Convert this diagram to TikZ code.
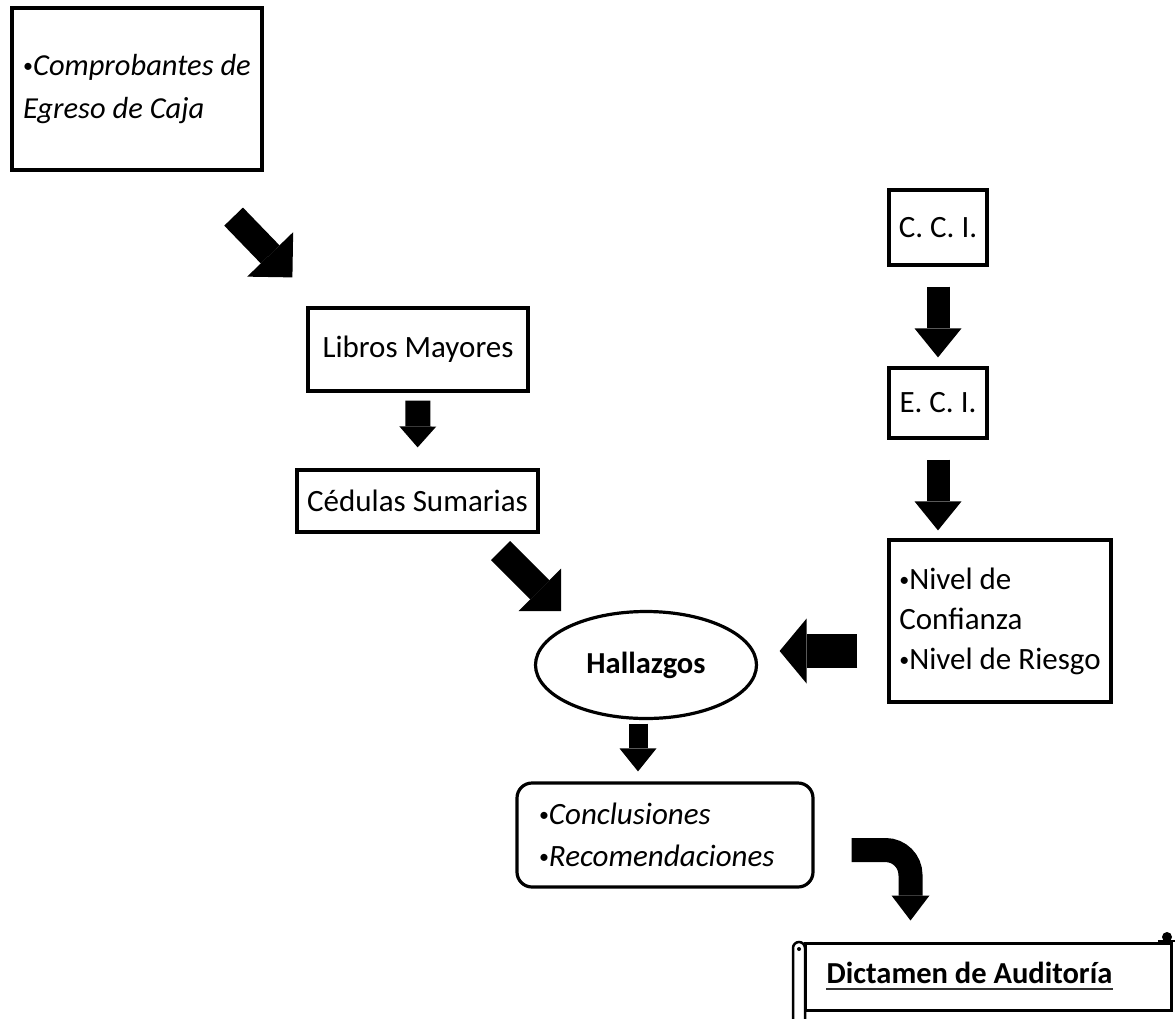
\documentclass[tikz,border=0pt]{standalone}
\usepackage{fontspec}
\setmainfont{Carlito}
\usetikzlibrary{arrows.meta,shapes.geometric}
% small list bullet
\newcommand{\smbul}{\raisebox{3pt}{\fontsize{20}{20}\selectfont\upshape •}}
\begin{document}
\begin{tikzpicture}[x=1pt,y=-1pt,
  box/.style={draw, line width=3.2pt, rectangle, inner sep=0pt,
    font=\fontsize{31}{40}\selectfont},
  bigarrow/.style n args={3}{line width=#1,
    -{Triangle[length=#3, width=#2, line width=0pt]}},
]
\clip (0,0) rectangle (1175,1018);

% left column
\node[box, minimum width=250pt, minimum height=162pt, align=left,
  font=\itshape\fontsize{30.5}{43}\selectfont] (comp) at (137,89)
  {\smbul Comprobantes de\\Egreso de Caja};
\node[box, minimum width=220pt, minimum height=83pt] (lib) at (418,349.5) {Libros Mayores};
\node[box, minimum width=241pt, minimum height=62pt] (ced) at (417.5,501) {Cédulas Sumarias};

% centre
\node[draw, ellipse, line width=3.2pt, minimum width=221pt, minimum height=107pt, inner sep=0pt,
  font=\bfseries\fontsize{30.5}{36}\selectfont] (hall) at (646,665) {Hallazgos};
\node[box, rounded corners=15pt, minimum width=296pt, minimum height=104pt,
  text width=252pt, align=left, font=\itshape\fontsize{31}{42}\selectfont]
  (concl) at (665,835) {\smbul Conclusiones\\\smbul Recomendaciones};

% right column
\node[box, minimum width=98pt, minimum height=75pt] (cci) at (938,227.5) {C. C. I.};
\node[box, minimum width=98pt, minimum height=70pt] (eci) at (938,403) {E. C. I.};
\node[box, minimum width=222pt, minimum height=162pt, align=left,
  font=\fontsize{31}{40}\selectfont] (nivel) at (1000,621)
  {\smbul Nivel de\\Confianza\\\smbul Nivel de Riesgo};

% scroll with the report title
\node[draw, line width=3pt, minimum width=366pt, minimum height=67pt, inner sep=0pt]
  (dict) at (988,976.5) {};
\node[font=\bfseries\fontsize{30.5}{36}\selectfont, inner sep=0pt, anchor=base]
  (dtxt) at (969.5,983) {Dictamen de Auditoría};
\draw[line width=2.5pt, black!80] ([yshift=-6pt]dtxt.base west) -- ([yshift=-6pt]dtxt.base east);
\draw[line width=2.5pt] (793,1030) -- (793,948) arc[start angle=180, end angle=0, radius=6pt]
  -- (805,1030);
\fill (799,949) circle[radius=2pt];
\fill (1167,937) circle[radius=5pt];
\draw[line width=2pt] (1158,941) -- (1176,941);

% block arrows
\draw[bigarrow={26pt}{64pt}{32pt}] ([shift={(-30,45)}]comp.south east) -- ([shift={(-14,-29)}]lib.north west);
\draw[bigarrow={25pt}{37pt}{21pt}, shorten <=8pt, shorten >=21pt] (lib.south) -- (ced.north);
\draw[bigarrow={27pt}{60pt}{30pt}] ([shift={(-39,17)}]ced.south east) -- ([shift={(-85,-54)}]hall.center);
\draw[bigarrow={34pt}{65pt}{27pt}] ([shift={(-30,30)}]nivel.west) -- ([shift={(21.5,-14)}]hall.east);
\draw[bigarrow={19pt}{37pt}{23pt}] ([shift={(-8,3.5)}]hall.south) -- ([shift={(-27,-10)}]concl.north);
\draw[bigarrow={23pt}{47pt}{29pt}, shorten <=20pt, shorten >=9pt] (cci.south) -- (eci.north);
\draw[bigarrow={23pt}{47pt}{29pt}, shorten <=20pt, shorten >=8pt] (eci.south) -- (eci.south |- nivel.north);
\draw[bigarrow={24pt}{38pt}{25pt}, rounded corners=25pt] ([shift={(37,15)}]concl.east) -| ([shift={(107,-21)}]dict.north west);
\end{tikzpicture}
\end{document}
